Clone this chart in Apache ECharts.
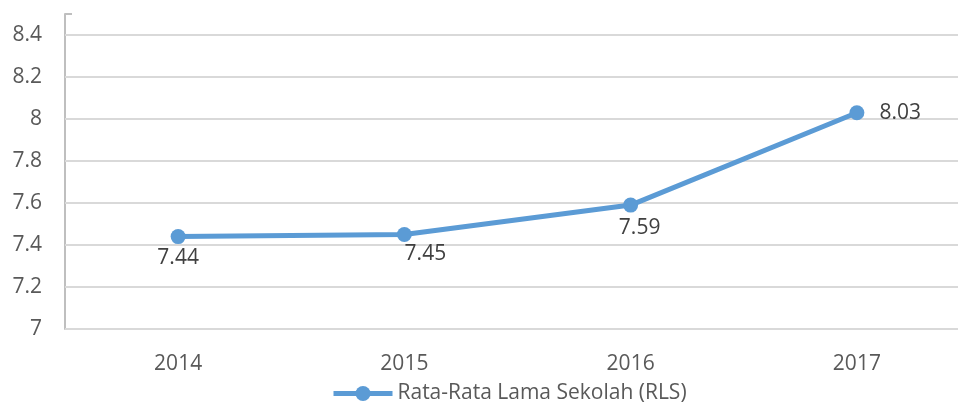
<!DOCTYPE html>
<html>
<head>
<meta charset="utf-8">
<script src="https://cdn.jsdelivr.net/npm/echarts@6/dist/echarts.min.js"></script>
<style>
  html, body { margin: 0; padding: 0; background: #fff; overflow: hidden; }
  /* the original plot runs a little past the right edge of the picture */
  #main { width: 975px; height: 407px; }
</style>
</head>
<body>
<div id="main"></div>
<script>
const years = ['2014', '2015', '2016', '2017']
const rls = [7.44, 7.45, 7.59, 8.03]
const seriesName = 'Rata-Rata Lama Sekolah (RLS)'
const yTicks = [7, 7.2, 7.4, 7.6, 7.8, 8, 8.2, 8.4]

// label placement per point, as in the original
const labelCfg = [
  { position: 'bottom', distance: 3, offset: [0, 0] },
  { position: 'bottom', distance: 2, offset: [21, 0] },
  { position: 'bottom', distance: 5, offset: [9, 0] },
  { position: 'right', distance: 15, offset: [0, 0] }
]

const font = '"Open Sans", "Noto Sans", sans-serif'
const gridColor = '#D9D9D9'
const chart = echarts.init(document.getElementById('main'), null, { renderer: 'canvas' })

chart.setOption({
  backgroundColor: '#fff',
  animation: false,
  grid: { left: 65, top: 14, width: 905, height: 315 },
  legend: {
    top: 378,
    left: 326,
    itemWidth: 59,
    itemHeight: 19,
    itemGap: 2,
    lineStyle: { width: 5 },
    textStyle: { fontFamily: font, fontSize: 21, color: '#595959' },
    data: [seriesName]
  },
  xAxis: {
    type: 'category',
    data: years,
    boundaryGap: true,
    axisLine: { show: false },
    axisTick: { show: false },
    axisLabel: { fontFamily: font, fontSize: 21, color: '#595959', margin: 25 }
  },
  yAxis: {
    type: 'value',
    min: 7,
    max: 8.5,
    interval: 0.2,
    axisLine: { show: true, lineStyle: { color: '#BFBFBF', width: 2 } },
    axisTick: { show: true, inside: true, length: 7, lineStyle: { color: '#BFBFBF', width: 2 } },
    axisLabel: {
      fontFamily: font, fontSize: 21, color: '#595959', margin: 23,
      formatter: v => (Math.abs(v - 8.5) < 1e-6 ? '' : String(+v.toFixed(1)))
    },
    splitLine: { show: false }
  },
  series: [{
    name: seriesName,
    type: 'line',
    data: rls.map((v, i) => ({
      value: v,
      label: Object.assign({ show: true }, labelCfg[i])
    })),
    symbol: 'circle',
    symbolSize: 15,
    lineStyle: { color: '#5B9BD5', width: 5 },
    itemStyle: { color: '#5B9BD5' },
    label: { fontFamily: font, fontSize: 21, color: '#404040' },
    z: 3,
    // gridlines only at the labelled ticks (no line at the 8.5 top)
    markLine: {
      silent: true,
      symbol: 'none',
      label: { show: false },
      z: 1,
      lineStyle: { color: gridColor, width: 2, type: 'solid' },
      data: yTicks.map(t => ({ yAxis: t }))
    }
  }]
})
</script>
</body>
</html>
